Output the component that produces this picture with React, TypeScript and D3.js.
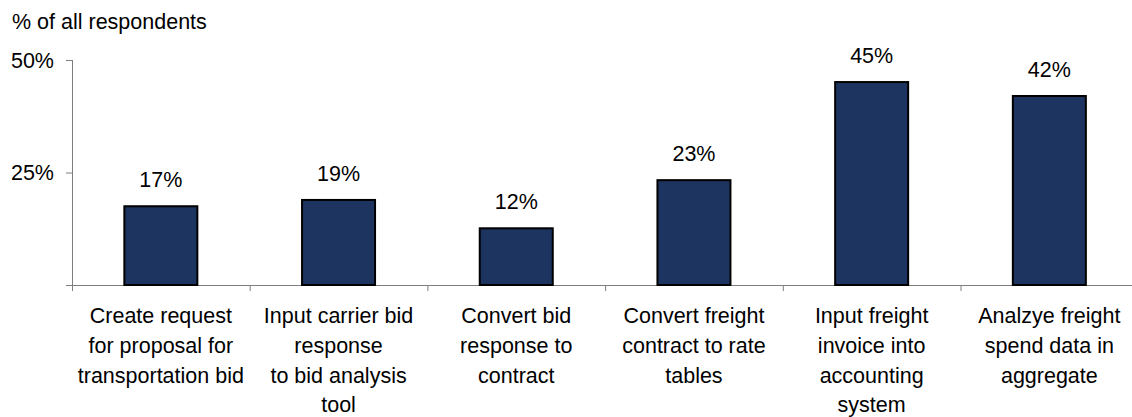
import React from "react";
import * as d3 from "d3";

const categories: string[][] = [
  ["Create request", "for proposal for", "transportation bid"],
  ["Input carrier bid", "response", "to bid analysis", "tool"],
  ["Convert bid", "response to", "contract"],
  ["Convert freight", "contract to rate", "tables"],
  ["Input freight", "invoice into", "accounting", "system"],
  ["Analzye freight", "spend data in", "aggregate"],
];
const values: number[] = [17.5, 18.9, 12.6, 23.3, 45.1, 42];
const valueLabels: string[] = ["17%", "19%", "12%", "23%", "45%", "42%"];
const yTicks: number[] = [0, 25, 50];
const yTickLabels: string[] = ["", "25%", "50%"];
const yTitle = "% of all respondents";

const W = 1132;
const H = 417;
const FONT = "'Liberation Sans', Arial, sans-serif";
const FS = 21.5;

export default function App() {
  const x0 = 72;
  const band = 177.7;
  const x = d3
    .scaleBand<number>()
    .domain(d3.range(categories.length))
    .range([x0, x0 + band * categories.length])
    .paddingInner(0)
    .paddingOuter(0);
  const y = d3.scaleLinear().domain([0, 50]).range([285, 60]);
  const barW = 73;
  const axisColor = "#7f7f7f";
  const lineH = 29.7;

  return (
    <svg
      width={W}
      height={H}
      style={{ position: "absolute", left: 0, top: 0, background: "#fff" }}
      fontFamily={FONT}
    >
      <text x={12} y={29} fontSize={FS} fill="#000">
        {yTitle}
      </text>
      {/* y axis */}
      <line x1={x0 + 0.5} x2={x0 + 0.5} y1={y(50)} y2={y(0) + 6} stroke={axisColor} strokeWidth={1} />
      {yTicks.map((t, i) => (
        <g key={"yt" + i}>
          <line x1={x0 - 6} x2={x0} y1={y(t) + 0.5} y2={y(t) + 0.5} stroke={axisColor} strokeWidth={1} />
          {yTickLabels[i] && (
            <text x={54} y={y(t) + 7.5} fontSize={FS} textAnchor="end" fill="#000">
              {yTickLabels[i]}
            </text>
          )}
        </g>
      ))}
      {/* x axis */}
      <line
        x1={x0 - 6}
        x2={x0 + band * categories.length}
        y1={y(0) + 0.5}
        y2={y(0) + 0.5}
        stroke={axisColor}
        strokeWidth={1}
      />
      {d3.range(1, categories.length + 1).map((k) => (
        <line
          key={"xt" + k}
          x1={x0 + band * k + 0.5}
          x2={x0 + band * k + 0.5}
          y1={y(0)}
          y2={y(0) + 6}
          stroke={axisColor}
          strokeWidth={1}
        />
      ))}
      {/* bars */}
      {values.map((v, i) => {
        const cx = (x(i) as number) + x.bandwidth() / 2;
        return (
          <g key={"b" + i}>
            <rect
              x={cx - barW / 2}
              y={y(v)}
              width={barW}
              height={y(0) - y(v)}
              fill="#1c345f"
              stroke="#000"
              strokeWidth={2}
            />
            <text x={cx} y={y(v) - 19} fontSize={FS} textAnchor="middle" fill="#000">
              {valueLabels[i]}
            </text>
          </g>
        );
      })}
      {/* category labels */}
      {categories.map((lines, i) => {
        const cx = (x(i) as number) + x.bandwidth() / 2;
        return (
          <text key={"c" + i} fontSize={FS} textAnchor="middle" fill="#000">
            {lines.map((l, j) => (
              <tspan key={j} x={cx} y={323.3 + j * lineH}>
                {l}
              </tspan>
            ))}
          </text>
        );
      })}
    </svg>
  );
}
